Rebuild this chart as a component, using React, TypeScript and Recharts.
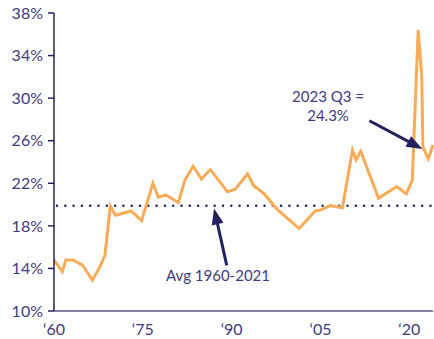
import React from "react";
import {
  LineChart,
  Line,
  XAxis,
  YAxis,
  ReferenceLine,
  ReferenceDot,
} from "recharts";

// federal outlays as % of GDP
const years = [
  1960, 1961.4, 1962, 1963.2, 1964.8, 1966.5, 1967.7, 1968.6, 1969.5, 1970.4,
  1973, 1974.8, 1976.7, 1977.6, 1978.9, 1981, 1982.1, 1983.5, 1984.9, 1986.4,
  1989.3, 1990.6, 1992.7, 1993.7, 1995.5, 1997.6, 2001.4, 2004.1, 2005.1, 2006.6,
  2008.7, 2010.4, 2011.0, 2011.8, 2014.8, 2017.9, 2019.5, 2020.5, 2021.5, 2022.1,
  2022.3, 2023.2, 2024.0,
];
const values = [
  14.8, 13.7, 14.8, 14.8, 14.3, 12.9, 14.1, 15.2, 19.85, 19.0,
  19.4, 18.5, 22.0, 20.7, 20.9, 20.2, 22.3, 23.6, 22.4, 23.3,
  21.2, 21.45, 22.9, 21.8, 21.0, 19.6, 17.75, 19.4, 19.5, 19.9,
  19.7, 25.1, 24.2, 25.0, 20.6, 21.7, 21.0, 22.3, 36.4, 32.0,
  25.4, 24.3, 25.6,
];
const xTicks = [1960, 1975, 1990, 2005, 2020];
const yTicks = [10, 14, 18, 22, 26, 30, 34, 38];
const average = 19.9;

const data = years.map((year, i) => ({ year, value: values[i] }));

const NAVY = "#24225f";
const TEXT = "#3f3c7c";
const ORANGE = "#f9ab57";
const FONT = "Lato, 'Open Sans', sans-serif";

const Arrow = (props: any) => {
  const { x1, y1, x2, y2 } = props;
  const dx = x2 - x1;
  const dy = y2 - y1;
  const len = Math.sqrt(dx * dx + dy * dy);
  const ux = dx / len;
  const uy = dy / len;
  const head = 16;
  const half = 6;
  const bx = x2 - ux * head;
  const by = y2 - uy * head;
  const pts = [
    `${x2},${y2}`,
    `${bx - uy * half},${by + ux * half}`,
    `${bx + uy * half},${by - ux * half}`,
  ].join(" ");
  return (
    <g>
      <line x1={x1} y1={y1} x2={bx + ux * 2} y2={by + uy * 2} stroke={NAVY} strokeWidth={3} />
      <polygon points={pts} fill={NAVY} />
    </g>
  );
};

const Note = (lines: string[]) => (props: any) => {
  const { cx, cy } = props;
  return (
    <text x={cx} y={cy} textAnchor="middle" fill={TEXT} fontSize={15} fontFamily={FONT}>
      {lines.map((l, i) => (
        <tspan key={i} x={cx} dy={i === 0 ? "0.35em" : "1.3em"}>
          {l}
        </tspan>
      ))}
    </text>
  );
};

export default function App() {
  return (
    <div style={{ position: "absolute", left: 0, top: 0, background: "#fff" }}>
      <LineChart
        width={434}
        height={339}
        data={data}
        margin={{ top: 13, right: 1, bottom: 0, left: 0 }}
        style={{ fontFamily: FONT }}
      >
        <XAxis
          dataKey="year"
          type="number"
          domain={[1960, 2024]}
          ticks={xTicks}
          tickFormatter={(v) => "\u2018" + String(v).slice(2)}
          tickLine={false}
          tickSize={6}
          tickMargin={7}
          height={28}
          stroke="#5a588e"
          strokeWidth={1.5}
          tick={{ fill: TEXT, fontSize: 16, fontFamily: FONT }}
        />
        <YAxis
          type="number"
          domain={[10, 38]}
          ticks={yTicks}
          tickFormatter={(v) => `${v}%`}
          width={54}
          tickSize={6}
          tickMargin={5}
          stroke={NAVY}
          strokeWidth={1.5}
          tick={{ fill: TEXT, fontSize: 16, fontFamily: FONT }}
        />
        <ReferenceLine
          y={average}
          stroke={NAVY}
          strokeWidth={2.5}
          strokeDasharray="0 8.3"
          strokeLinecap="round"
          strokeDashoffset={-3}
        />
        <Line
          type="linear"
          dataKey="value"
          stroke={ORANGE}
          strokeWidth={3}
          dot={false}
          isAnimationActive={false}
        />
        <ReferenceLine
          segment={[
            { x: 2013.26, y: 27.88 },
            { x: 2022.21, y: 25.22 },
          ]}
          shape={Arrow}
        />
        <ReferenceLine
          segment={[
            { x: 1989.17, y: 14.29 },
            { x: 1987.03, y: 19.63 },
          ]}
          shape={Arrow}
        />
        <ReferenceDot x={2006.28} y={30.14} r={0} shape={Note(["2023 Q3 =", "24.3%"])} />
        <ReferenceDot x={1987.7} y={13.35} r={0} shape={Note(["Avg 1960-2021"])} />
      </LineChart>
    </div>
  );
}
